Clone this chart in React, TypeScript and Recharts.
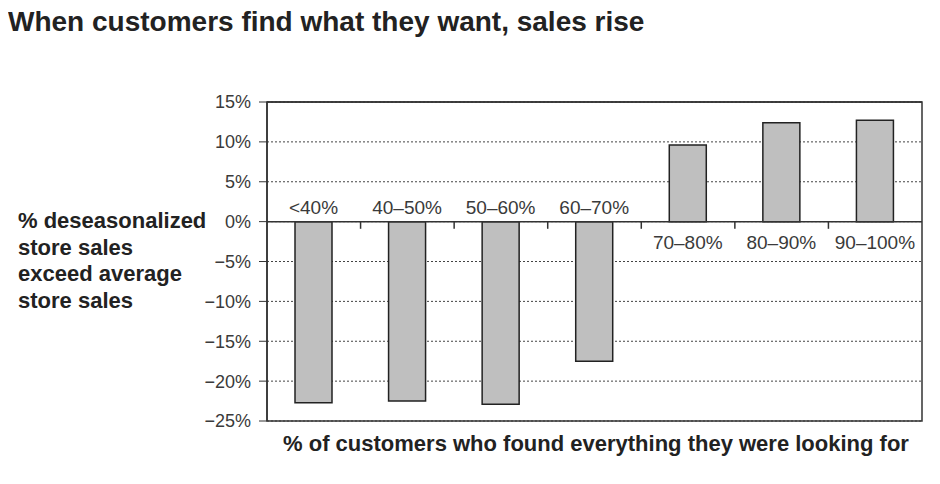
import React from 'react';
import {
  BarChart, Bar, XAxis, YAxis, CartesianGrid, ReferenceLine, ReferenceArea, LabelList
} from 'recharts';

// shares of customers who found everything they were looking for
const categories = ['<40%', '40–50%', '50–60%', '60–70%', '70–80%', '80–90%', '90–100%'];
// % by which deseasonalized store sales exceed average store sales
const salesDiff = [-22.7, -22.5, -22.9, -17.5, 9.6, 12.4, 12.7];
const yTicks = [-25, -20, -15, -10, -5, 0, 5, 10, 15];

const data = categories.map((cat, i) => ({ cat, value: salesDiff[i] }));

const TEXT = '#3a3a3a';
const FONT = '"Liberation Sans", Arial, Helvetica, sans-serif';

const fmtPct = (v: number) => `${v < 0 ? '−' + Math.abs(v) : v}%`;

const CatLabel = (props: any) => {
  const { x, y, width, height, value } = props;
  const i = categories.indexOf(value);
  const v = salesDiff[i];
  const top = Math.min(y, y + height);
  const bottom = Math.max(y, y + height);
  const zeroY = v < 0 ? top : bottom;
  const ty = v < 0 ? zeroY - 8 : zeroY + 27;
  return (
    <text x={x + width / 2} y={ty} textAnchor="middle" fontSize={19} fill={TEXT} fontFamily={FONT}>
      {value}
    </text>
  );
};

const App: React.FC = () => {
  return (
    <div style={{ position: 'relative', width: 924, height: 468, fontFamily: FONT }}>
      <div style={{ position: 'absolute', left: 0, top: 0, fontSize: 28, lineHeight: '28px', fontWeight: 700, color: '#222', whiteSpace: 'nowrap' }}>
        When customers find what they want, sales rise
      </div>
      <div style={{ position: 'absolute', left: 10, top: 200, fontSize: 22, lineHeight: '26.5px', fontWeight: 700, color: '#222' }}>
        % deseasonalized<br />store sales<br />exceed average<br />store sales
      </div>
      <div style={{ position: 'absolute', left: 188, width: 800, top: 424, textAlign: 'center', fontSize: 22, lineHeight: '24px', fontWeight: 700, color: '#222' }}>
        % of customers who found everything they were looking for
      </div>
      <div style={{ position: 'absolute', left: 0, top: 0 }}>
        <BarChart
          width={924}
          height={468}
          data={data}
          margin={{ top: 94, right: 10, bottom: 55, left: 199 }}
        >
          <CartesianGrid vertical={false} stroke="#444" strokeDasharray="2 2" />
          <XAxis dataKey="cat" hide />
          <YAxis
            domain={[-25, 15]}
            ticks={yTicks}
            width={60}
            tickFormatter={fmtPct}
            tick={{ fontSize: 18, fill: TEXT, fontFamily: FONT }}
            tickSize={8}
            tickMargin={8}
            axisLine={{ stroke: '#333', strokeWidth: 1.5 }}
            tickLine={{ stroke: '#333' }}
            interval={0}
          />
          <Bar dataKey="value" fill="#bfbfbf" stroke="#222" strokeWidth={1.5} barSize={37} isAnimationActive={false}>
            <LabelList dataKey="cat" content={CatLabel} />
          </Bar>
          <ReferenceArea y1={-25} y2={15} fill="none" fillOpacity={0} stroke="#333" strokeWidth={1.5} ifOverflow="visible" />
          <ReferenceLine y={15} stroke="#333" strokeWidth={1.5} />
          <ReferenceLine y={0} stroke="#333" strokeWidth={1.5} />
          {categories.slice(1).map((c) => (
            <ReferenceLine
              key={c}
              position="start"
              segment={[{ x: c, y: 0 }, { x: c, y: -0.9 }]}
              stroke="#333"
              strokeWidth={1.5}
            />
          ))}
        </BarChart>
      </div>
    </div>
  );
};

export default App;
